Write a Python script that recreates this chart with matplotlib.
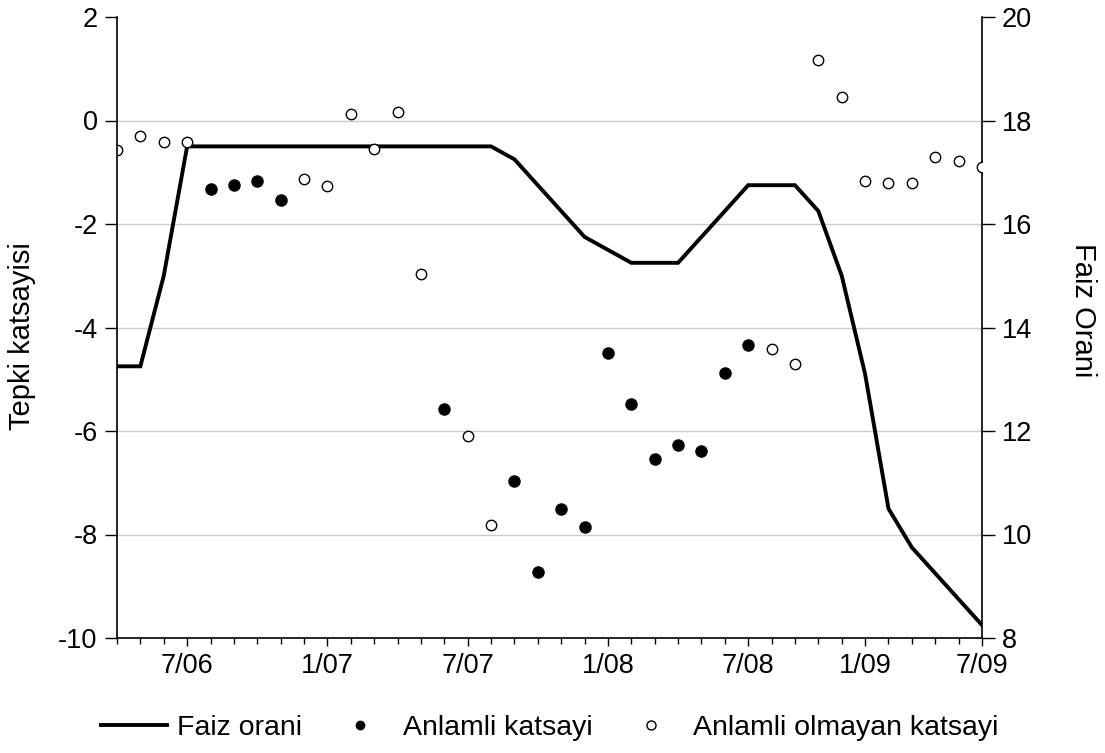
import numpy as np
import matplotlib
matplotlib.use("Agg")
import matplotlib.pyplot as plt
from matplotlib.lines import Line2D

plt.rcParams['font.family'] = ['Liberation Sans', 'DejaVu Sans']
plt.rcParams['axes.unicode_minus'] = False

# monthly observations, 4/06 .. 7/09 (38 points as in the source chart)
n_obs = 38
tick_pos = [3, 9, 15, 21, 27, 32, 37]
tick_labels = ["7/06", "1/07", "7/07", "1/08", "7/08", "1/09", "7/09"]

# policy rate (right axis)
faiz = [13.25, 13.25, 15.0, 17.5, 17.5, 17.5, 17.5, 17.5, 17.5, 17.5,
        17.5, 17.5, 17.5, 17.5, 17.5, 17.5, 17.5, 17.25, 16.75, 16.25,
        15.75, 15.5, 15.25, 15.25, 15.25, 15.75, 16.25, 16.75, 16.75, 16.75,
        16.25, 15.0, 13.1, 10.5, 9.75, 9.25, 8.75, 8.25]

# significant coefficients (filled dots)
anlamli_idx = [4, 5, 6, 7, 14, 17, 18, 19, 20, 21, 22, 23, 24, 25, 26, 27]
anlamli_val = [-1.33, -1.24, -1.17, -1.54, -5.57, -6.96, -8.73, -7.50, -7.85, -4.50,
               -5.48, -6.54, -6.28, -6.38, -4.87, -4.33]

# non significant coefficients (open dots)
anlamsiz_idx = [0, 1, 2, 3, 8, 9, 10, 11, 12, 13, 15, 16, 28, 29, 30, 31, 32, 33, 34, 35, 36, 37]
anlamsiz_val = [-0.57, -0.30, -0.41, -0.41, -1.13, -1.26, 0.12, -0.56, 0.16, -2.97,
                -6.10, -7.82, -4.42, -4.70, 1.17, 0.46, -1.17, -1.20, -1.21, -0.71,
                -0.79, -0.90]

fig = plt.figure(figsize=(11.05, 7.53), dpi=100)
ax = fig.add_axes([117/1105, 1-638/753, (982-117)/1105, (638-17)/753])
ax2 = ax.twinx()

x = np.arange(n_obs)

# right axis: line + grid
ax2.plot(x, faiz, color='black', lw=2.8, solid_joinstyle='miter')
ax2.set_ylim(8, 20)
ax2.set_yticks(np.arange(8, 21, 2))
for g in [10, 12, 14, 16, 18]:
    ax2.axhline(g, color='#cccccc', lw=1, zorder=0)

# left axis: dots
ax.set_zorder(ax2.get_zorder() + 1)
ax.patch.set_visible(False)
ax.plot(anlamli_idx, anlamli_val, 'o', color='black', ms=8, ls='none')
ax.plot(anlamsiz_idx, anlamsiz_val, 'o', mfc='white', mec='black', mew=1.0, ms=7.5, ls='none')
ax.set_ylim(-10, 2)
ax.set_yticks(np.arange(-10, 3, 2))
ax.set_xlim(0, n_obs - 1)
ax.set_xticks(tick_pos)
ax.set_xticklabels(tick_labels)
ax.set_xticks(x, minor=True)

for s in ['top', 'right']:
    ax.spines[s].set_visible(False)
for s in ['top', 'left', 'bottom']:
    ax2.spines[s].set_visible(False)
for a in (ax, ax2):
    for s in a.spines.values():
        s.set_linewidth(1.2)

ax.tick_params(axis='y', direction='out', length=9, width=1, pad=5, labelsize=19.5)
ax2.tick_params(axis='y', direction='out', length=9, width=1, pad=5, labelsize=19.5)
ax.tick_params(axis='x', which='major', direction='out', length=6, width=1, pad=5, labelsize=19.5)
ax.tick_params(axis='x', which='minor', direction='out', length=4, width=1)

fig.text(22/1105, 1-336/753, "Tepki katsayisi", rotation=90, ha='center', va='center', fontsize=21)
fig.text(1083/1105, 1-310/753, "Faiz Orani", rotation=270, ha='center', va='center', fontsize=21)

handles = [
    Line2D([], [], color='black', lw=2.8),
    Line2D([], [], marker='o', color='black', ls='none', ms=6),
    Line2D([], [], marker='o', mfc='white', mec='black', ls='none', ms=6.5, mew=1),
]
fig.legend(handles, ["Faiz orani", "Anlamli katsayi", "Anlamli olmayan katsayi"],
           loc='center', bbox_to_anchor=(550/1105, 1-728/753), ncol=3, frameon=False,
           fontsize=20.5, handlelength=2.3, handletextpad=0.35, columnspacing=0.9,
           borderpad=0, borderaxespad=0)

fig.savefig("out.png", dpi=100)
